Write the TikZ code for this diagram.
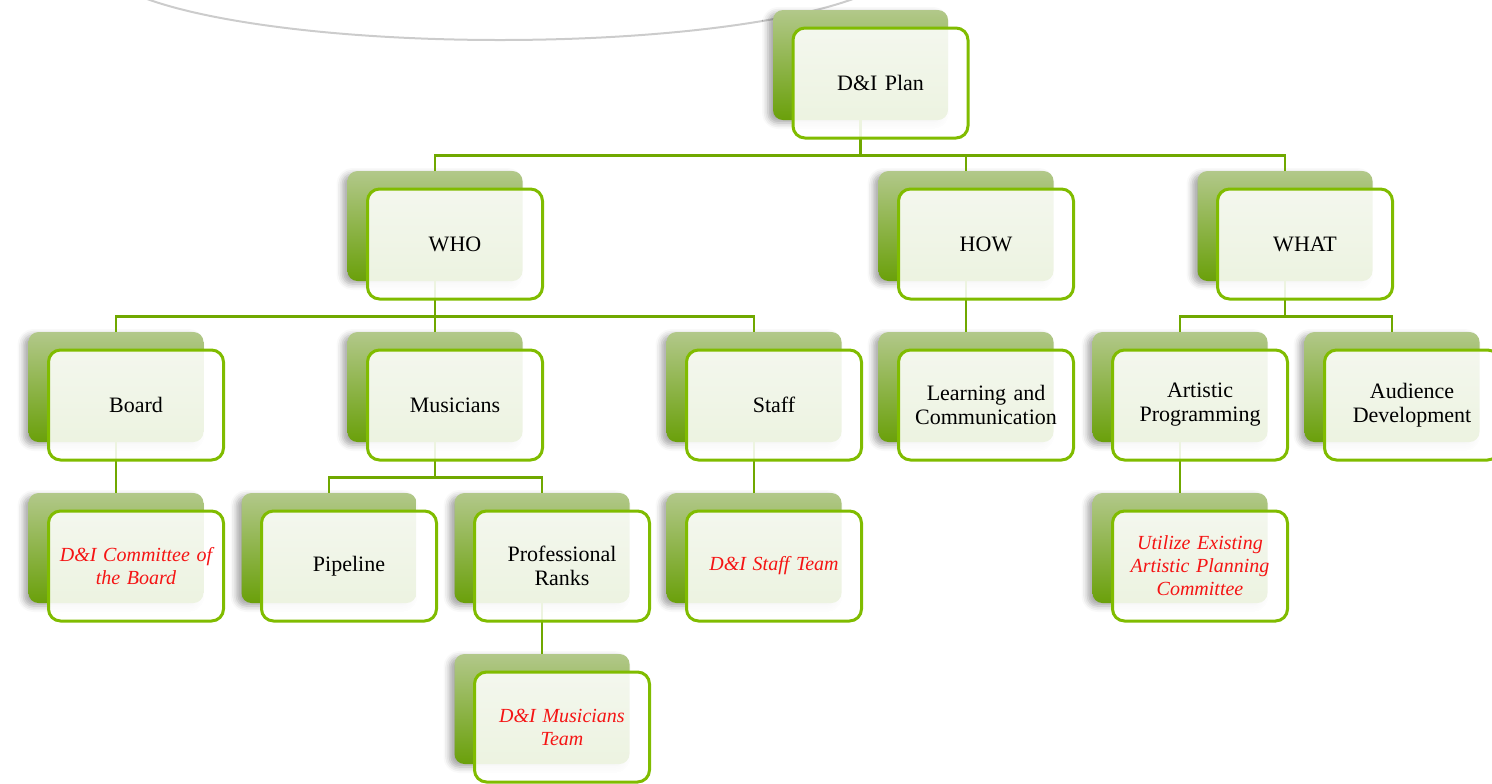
\documentclass[tikz,border=0pt]{standalone}
\usepackage{fontspec}
\setmainfont{Liberation Serif}
\definecolor{CardTop}{RGB}{178,200,138}
\definecolor{CardBottom}{RGB}{106,160,10}
\definecolor{BoxEdge}{RGB}{128,188,0}
\definecolor{LinkGreen}{RGB}{112,168,0}
\definecolor{NoteRed}{RGB}{245,20,20}
\usetikzlibrary{positioning, shadows.blur}

\begin{document}
\begin{tikzpicture}[x=0.5pt, y=-0.5pt, font=\fontsize{11}{12}\selectfont]
        \tikzstyle{card} = [rectangle, rounded corners=5pt, minimum width=87.5pt,
            minimum height=55pt, top color=CardTop, bottom color=CardBottom,
            blur shadow={shadow xshift=-2.5pt, shadow yshift=-1.5pt, shadow blur radius=3pt, shadow opacity=35}]
        \tikzstyle{block} = [rectangle, draw=BoxEdge, line width=1.5pt, fill=white,
            fill opacity=0.88, text opacity=1, rounded corners=6pt, minimum width=87.5pt,
            minimum height=55pt, text width=84pt, inner sep=1.5pt, align=center]
        \tikzstyle{note} = [block, text=NoteRed, font=\fontsize{10}{11.5}\selectfont\itshape]
        \tikzstyle{line} = [draw=LinkGreen, line width=1.4pt]
        \tikzstyle{rim} = [draw=black!20, line width=1pt]

        \clip (0,0) rectangle (1492,783);
        \path [rim] (500,-37.5) ellipse [x radius=400, y radius=77.5];

        % back cards
        \foreach \name/\pos in {plan/{860.5,65},
            who/{435,226}, how/{966,226}, what/{1285,226},
            board/{116,387}, musicians/{435,387}, staff/{754,387},
            learning/{966,387}, artistic/{1180,387}, audience/{1392,387},
            committee/{116,548}, pipeline/{329,548}, ranks/{542,548},
            staffteam/{754,548}, utilize/{1180,548}, musteam/{542,709}}
            \node [card] (\name) at (\pos) {};

        % links
        \foreach \from/\to in {plan/who, plan/how, plan/what,
            who/board, who/musicians, who/staff, how/learning,
            what/artistic, what/audience, board/committee,
            musicians/pipeline, musicians/ranks, staff/staffteam,
            artistic/utilize, ranks/musteam}
            \path [line] (\from.south) -- ++(0,35) -| (\to.north);

        % front boxes
        \foreach \name/\kind/\label in {plan/block/{D\&I Plan},
            who/block/WHO, how/block/HOW, what/block/WHAT,
            board/block/Board, musicians/block/Musicians, staff/block/Staff,
            learning/block/{Learning and\\Communication},
            artistic/block/{Artistic\\Programming},
            audience/block/{Audience\\Development},
            committee/note/{D\&I Committee of\\the Board},
            pipeline/block/Pipeline,
            ranks/block/{Professional\\Ranks},
            staffteam/note/{D\&I Staff Team},
            utilize/note/{Utilize Existing\\Artistic Planning\\Committee},
            musteam/note/{D\&I Musicians\\Team}}
            \node [\kind] (\name-box) at ([shift={(20,18)}]\name.center) {\label};
    \end{tikzpicture}
\end{document}
